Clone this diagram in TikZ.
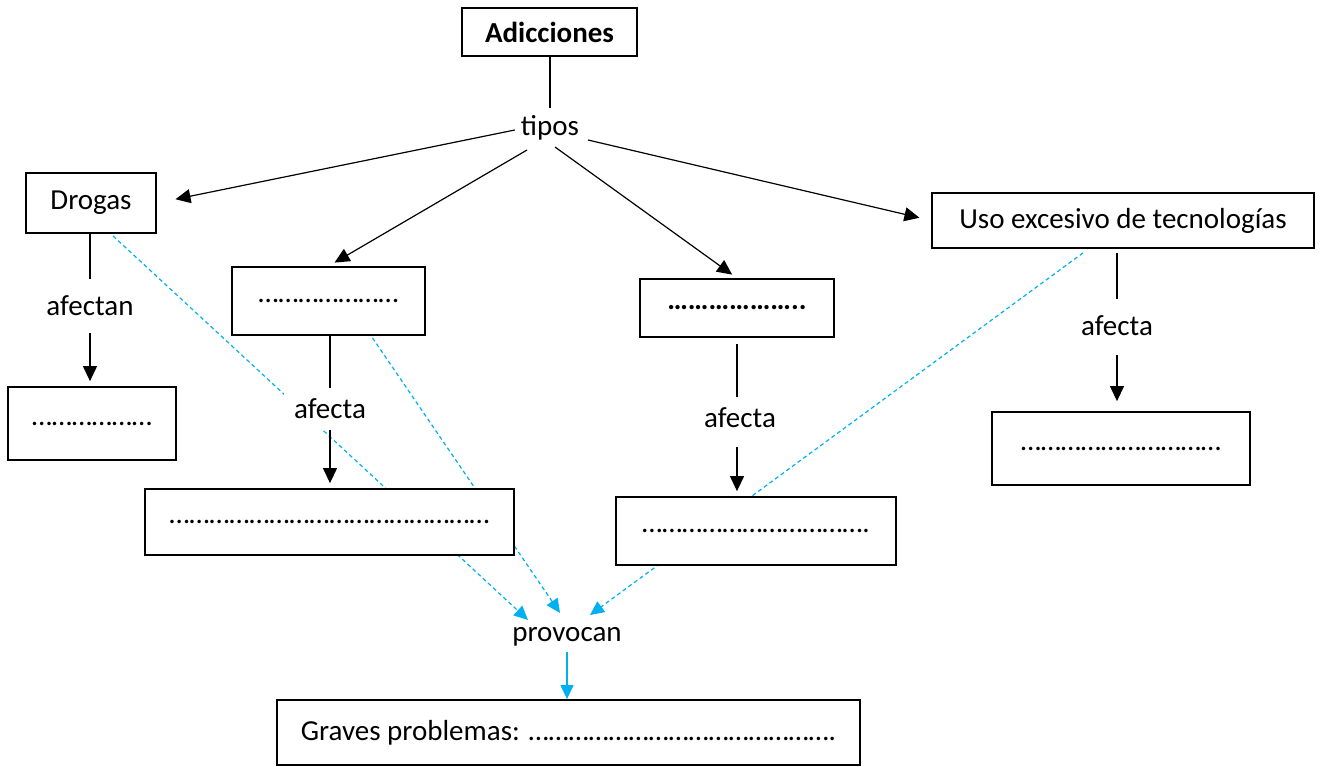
\documentclass[tikz,border=0pt]{standalone}
\usepackage{fontspec}
\setmainfont{Carlito}
\usetikzlibrary{arrows.meta,calc,backgrounds}
\definecolor{dashblue}{RGB}{0,176,240}
\begin{document}
\begin{tikzpicture}[x=1pt,y=-1pt,
  font=\fontsize{29}{34}\selectfont,
  box/.style={draw,line width=1.8pt,fill=white,inner sep=0pt,anchor=center},
  lbl/.style={fill=white,inner sep=0pt,inner xsep=10pt,minimum height=42pt,anchor=center},
  conn/.style={line width=1.2pt},
  arr/.style={line width=1.2pt,-{Triangle[length=15pt,width=14pt]}},
  carr/.style={line width=1.2pt,dashblue,-{Triangle[length=14pt,width=13pt]}},
  bluedash/.style={line width=1.2pt,dashblue,dash pattern=on 4pt off 3pt,-{Triangle[length=14pt,width=13pt]}}]
\useasboundingbox (0,0) rectangle (1322,766);
% nodes
\node[box,minimum width=175pt,minimum height=48pt] (adic) at (549.5,32) {\textbf{Adicciones}};
\node[inner sep=0pt,minimum height=40pt,minimum width=70pt] (tipos) at (550,128) {tipos};
\node[box,minimum width=130pt,minimum height=60pt] (drogas) at (91,203) {Drogas};
\node[box,minimum width=193pt,minimum height=68pt] (b2) at (328.5,301) {…………………};
\node[box,minimum width=194pt,minimum height=58pt] (b3) at (737,308) {\textbf{………………..}};
\node[box,minimum width=382pt,minimum height=55pt] (uso) at (1123,220.5) {Uso excesivo de tecnologías};
\node[box,minimum width=168pt,minimum height=73pt] (d1) at (92,423.5) {………………};
\node[box,minimum width=369pt,minimum height=66pt] (d2) at (329.5,522) {…………………………………………};
\node[box,minimum width=280pt,minimum height=68pt] (d3) at (756,531) {…………………………….};
\node[box,minimum width=258pt,minimum height=73pt] (d4) at (1121,448.5) {…………………………};
\node[inner sep=0pt,minimum height=30pt] (prov) at (567,637) {provocan};
\node[box,minimum width=583pt,minimum height=65pt] (graves) at (568.5,732.5) {Graves problemas: ……………………………………….};
\node[lbl] (afectan) at (90,306) {afectan};
\node[lbl] (af1) at (330,409) {afecta};
\node[lbl] (af2) at (740,418) {afecta};
\node[lbl] (af3) at (1117,326) {afecta};
% dashed endpoints
\coordinate (sA) at ($(drogas.south)+(22,2)$);
\coordinate (tA) at ($(prov)+(-39,-17)$);
\coordinate (sB) at ($(b2.south)+(44,2)$);
\coordinate (tB) at ($(prov)+(-7,-24)$);
\coordinate (sC) at ($(uso.south)+(-40,4)$);
\coordinate (tC) at ($(prov)+(23,-22)$);
\begin{pgfonlayer}{background}
\draw[bluedash] (sA) -- (tA);
\draw[bluedash] (sB) -- (tB);
\draw[bluedash] (sC) -- (tC);
\end{pgfonlayer}
% connectors
\draw[conn] (tipos.north |- adic.south) -- (tipos.north);
\draw[arr,shorten >=19pt] ($(tipos.west)+(0,2)$) -- (drogas.east);
\draw[arr,shorten >=7pt] ($(tipos)+(-23,22)$) -- (b2.north);
\draw[arr,shorten >=6pt] ($(tipos)+(5,19)$) -- (b3.north);
\draw[arr,shorten >=12pt] ($(tipos)+(38,12)$) -- (uso.west);
\draw[conn] (afectan.north |- drogas.south) -- ($(afectan.north)+(0,-6)$);
\draw[arr,shorten >=5pt] ($(afectan.south)+(0,6)$) -- (afectan.south |- d1.north);
\draw[conn] (af1.north |- b2.south) -- (af1.north);
\draw[arr,shorten >=5pt] (af1.south) -- (af1.south |- d2.north);
\draw[conn] ($(af2.north |- b3.south)+(-3,6)$) -- ($(af2.north)+(-3,0)$);
\draw[arr,shorten >=5pt] ($(af2.south)+(-3,8)$) -- ($(af2.south |- d3.north)+(-3,0)$);
\draw[conn] ($(af3.north |- uso.south)+(0,4)$) -- ($(af3.north)+(0,-6)$);
\draw[arr,shorten >=10pt] ($(af3.south)+(0,8)$) -- (af3.south |- d4.north);
\draw[carr] (prov.south) -- (prov.south |- graves.north);
\end{tikzpicture}
\end{document}
